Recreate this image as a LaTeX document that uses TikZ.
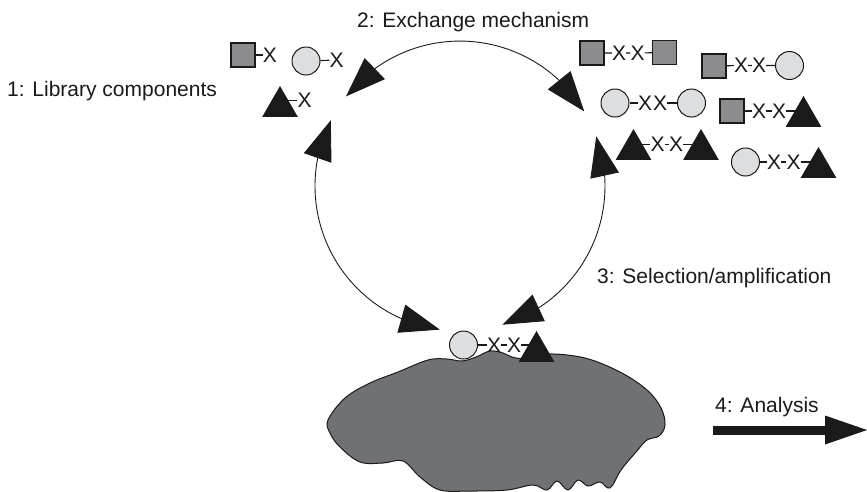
\documentclass[tikz,border=0pt]{standalone}
\usepackage{fontspec}
\setmainfont{Liberation Sans}
\usepackage{tikz}
\usetikzlibrary{arrows.meta,bending,shapes.geometric}
\definecolor{ink}{HTML}{1A1A1A}
\definecolor{sqgray}{HTML}{8C8C8E}
\definecolor{ballgray}{HTML}{DDDEE0}
\definecolor{blobgray}{HTML}{707174}
\tikzset{
  link/.style={draw=ink, line width=1.1pt},
  cyc/.style={draw=ink, line width=0.9pt,
    {Triangle[length=40pt,width=29pt]}-{Triangle[length=40pt,width=29pt]}},
  bigarrow/.style={draw=ink, line width=9pt,
    -{Triangle[length=42pt,width=29pt,line width=0pt]}},
  sq/.style={draw=ink, line width=1.1pt, fill=sqgray, minimum size=24pt, inner sep=0pt},
  ball/.style={circle, draw=ink, line width=1pt, fill=ballgray, minimum size=28pt, inner sep=0pt},
  tri/.style={regular polygon, regular polygon sides=3, fill=ink, minimum size=41pt, inner sep=0pt},
  xl/.style={text=ink, font=\fontsize{21}{25}\selectfont, inner sep=0pt},
  lbl/.style={text=ink, font=\fontsize{21}{25}\selectfont, anchor=base west, inner sep=0pt},
  blob/.style={draw=ink, line width=1pt, fill=blobgray}
}

\begin{document}
\begin{tikzpicture}[x=1pt, y=-1pt]
  \useasboundingbox (0,0) rectangle (867,491);

  % the cell surface
  \draw[blob] plot[smooth cycle, tension=0.6] coordinates {
    (328,420) (345,398) (370,383) (398,372) (428,360) (447,359) (462,361)
    (476,357) (490,351) (503,353) (516,358) (545,360) (549,354) (585,358)
    (620,372) (647,390) (661,408) (665,425) (659,436) (647,440) (636,452)
    (621,470) (610,488) (600,482) (588,486) (578,480) (568,490) (557,481)
    (547,490) (533,485) (507,490) (470,491) (440,490) (420,477) (403,461)
    (383,463) (360,462) (340,447) (330,433)};

  % exchange cycle
  \coordinate (A1) at (346.0,96.4);
  \coordinate (A2) at (330.8,120.2);
  \coordinate (A3) at (502.4,324.7);
  \draw[cyc] (A1) arc[start angle=-141.8, end angle=-31, radius=145];
  \draw[cyc] (A2) arc[start angle=-153, end angle=-262, radius=145];
  \draw[cyc] (A3) arc[start angle=73, end angle=-20, radius=145];

  % library components
  \node[sq] (L1) at (243,55) {};
  \node[xl] (L1x) at (270,55) {X};
  \draw[link] (L1) -- (L1x);
  \node[ball] (L2) at (306,61) {};
  \node[xl] (L2x) at (336.5,60) {X};
  \draw[link] (L2) -- (L2x);
  \node[tri] (L3) at (280,106.5) {};
  \node[xl] (L3x) at (304.5,100.5) {X};
  \draw[link] (L3.center |- L3x) -- (L3x);

  % exchanged products
  \node[sq] (P1a) at (592,53) {};
  \node[xl] (P1x) at (619,53) {X};
  \node[xl] (P1y) at (637.5,53) {X};
  \node[sq] (P1b) at (664.5,52.5) {};
  \draw[link] (P1a) -- (P1x) (P1x) -- (P1y) (P1y) -- (P1b);

  \node[sq] (P2a) at (714,66) {};
  \node[xl] (P2x) at (741,65.5) {X};
  \node[xl] (P2y) at (759,65.5) {X};
  \node[ball] (P2b) at (789.5,65.5) {};
  \draw[link] (P2a) -- (P2x) (P2x) -- (P2y) (P2y) -- (P2b);

  \node[ball] (P3a) at (615,103) {};
  \node[xl] (P3x) at (645,103) {X};
  \node[xl] (P3y) at (660,103) {X};
  \node[ball] (P3b) at (691.5,103) {};
  \draw[link] (P3a) -- (P3x) (P3y) -- (P3b);

  \node[sq] (P4a) at (732,111) {};
  \node[xl] (P4x) at (759,111) {X};
  \node[xl] (P4y) at (779,111) {X};
  \node[tri] (P4b) at (803.5,116.5) {};
  \draw[link] (P4a) -- (P4x) (P4x) -- (P4y) (P4y) -- (P4y -| P4b.center);

  \node[tri] (P5a) at (633.5,149.5) {};
  \node[xl] (P5x) at (657.5,144.5) {X};
  \node[xl] (P5y) at (676,144.5) {X};
  \node[tri] (P5b) at (701,149.5) {};
  \draw[link] (P5a.center |- P5x) -- (P5x) (P5x) -- (P5y) (P5y) -- (P5y -| P5b.center);

  \node[ball] (P6a) at (745.5,162) {};
  \node[xl] (P6x) at (774,162) {X};
  \node[xl] (P6y) at (793.5,162) {X};
  \node[tri] (P6b) at (818.5,167.5) {};
  \draw[link] (P6a) -- (P6x) (P6x) -- (P6y) (P6y) -- (P6y -| P6b.center);

  % selected binder
  \node[ball] (B1) at (463.5,345) {};
  \node[xl] (B1x) at (494,345) {X};
  \node[xl] (B1y) at (514,345) {X};
  \node[tri] (B1t) at (536.5,351.5) {};
  \draw[link] (B1) -- (B1x) (B1x) -- (B1y) (B1y) -- (B1y -| B1t.center);

  % analysis
  \coordinate (N0) at (713,430);
  \coordinate (N1) at (867,430);
  \draw[bigarrow] (N0) -- (N1);

  \node[lbl] at (357,27) {2: Exchange mechanism};
  \node[lbl] at (7,96) {1: Library components};
  \node[lbl] at (597,283) {3: Selection/amplification};
  \node[lbl] at (715,412) {4: Analysis};
\end{tikzpicture}
\end{document}
